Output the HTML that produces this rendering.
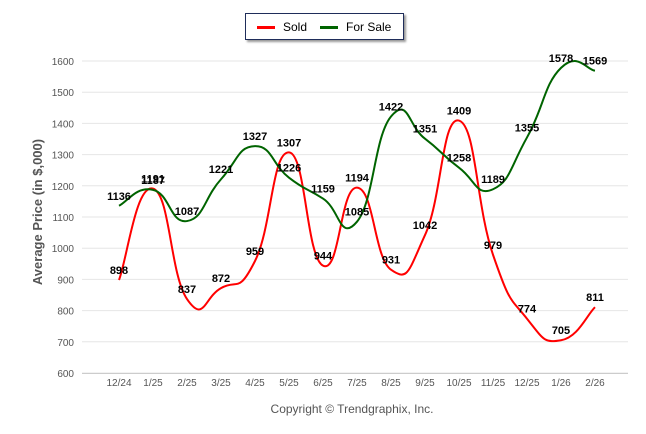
<!DOCTYPE html>
<html><head><meta charset="utf-8"><style>
body{margin:0;background:#fff;width:646px;height:434px;overflow:hidden;font-family:"Liberation Sans",sans-serif}
#legend{position:absolute;left:245px;top:13px;width:157px;height:25px;border:1px solid #1f2d5a;box-shadow:2px 2px 2px #999;background:#fff;font-size:12px}
</style></head><body>
<div id="legend">
<span style="position:absolute;left:11px;top:6px"><span style="display:inline-block;width:18px;height:3px;background:#f00;vertical-align:middle;margin-right:8px"></span>Sold</span>
<span style="position:absolute;left:74px;top:6px"><span style="display:inline-block;width:18px;height:3px;background:#006400;vertical-align:middle;margin-right:8px"></span>For Sale</span>
</div>
<svg id="chart" width="646" height="434" style="position:absolute;left:0;top:0;z-index:-1"></svg>
<script>
const categories=["12/24","1/25","2/25","3/25","4/25","5/25","6/25","7/25","8/25","9/25","10/25","11/25","12/25","1/26","2/26"];
const sold=[898,1191,837,872,959,1307,944,1194,931,1042,1409,979,774,705,811];
const forSale=[1136,1187,1087,1221,1327,1226,1159,1085,1422,1351,1258,1189,1355,1578,1569];
const yTicks=[600,700,800,900,1000,1100,1200,1300,1400,1500,1600];
const svg=document.getElementById('chart');const NS='http://www.w3.org/2000/svg';
function X(i){return 119+i*34;}
function Y(v){return 373-(v-600)*0.312;}
function mk(t,a,p){const e=document.createElementNS(NS,t);for(const k in a)e.setAttribute(k,a[k]);(p||svg).appendChild(e);return e;}
yTicks.forEach(v=>{
 const g=mk('line',{x1:82,x2:628,y1:Y(v),y2:Y(v),stroke:'#e6e6e6','stroke-width':1});
 
 
 const t=mk('text',{x:74,y:Y(v)+4,'text-anchor':'end','font-size':10,fill:'#555'});t.textContent=v;
 
 
});
mk('line',{x1:82,x2:628,y1:373.5,y2:373.5,stroke:'#ccc'});
categories.forEach((c,i)=>{
 const t=mk('text',{x:X(i),y:386,'text-anchor':'middle','font-size':10,fill:'#555'});t.textContent=c;
 
 
});
const yt=mk('text',{x:42,y:212,transform:'rotate(-90 42 212)','text-anchor':'middle','font-size':13,'font-weight':'bold',fill:'#555'});yt.textContent='Average Price (in $,000)';


const cp=mk('text',{x:352,y:413,'text-anchor':'middle','font-size':12,fill:'#555'});cp.textContent='Copyright \u00a9 Trendgraphix, Inc.';


function path(vals){
 const p=vals.map((v,i)=>[X(i),Y(v)]);let d='M'+p[0][0]+','+p[0][1];
 const s=0.25;
 for(let i=0;i<p.length-1;i++){
  const p0=p[i-1]||p[i],p1=p[i],p2=p[i+1],p3=p[i+2]||p2;
  const c1=[p1[0]+(p2[0]-p0[0])*s,p1[1]+(p2[1]-p0[1])*s];
  const c2=[p2[0]-(p3[0]-p1[0])*s,p2[1]-(p3[1]-p1[1])*s];
  d+=' C'+c1+' '+c2+' '+p2;
 }return d;}
[[sold,'#f00','sold-line'],[forSale,'#006400','for-sale-line']].forEach(([vals,col,name])=>{
 const l=mk('path',{d:path(vals),fill:'none',stroke:col,'stroke-width':2});
 
 
});
[sold,forSale].forEach(vals=>vals.forEach((v,i)=>{
 const t=mk('text',{x:X(i),y:Y(v)-6,'text-anchor':'middle','font-size':11,'font-weight':'bold',fill:'#000'});t.textContent=v;
 
 
}));
</script>
</body></html>
